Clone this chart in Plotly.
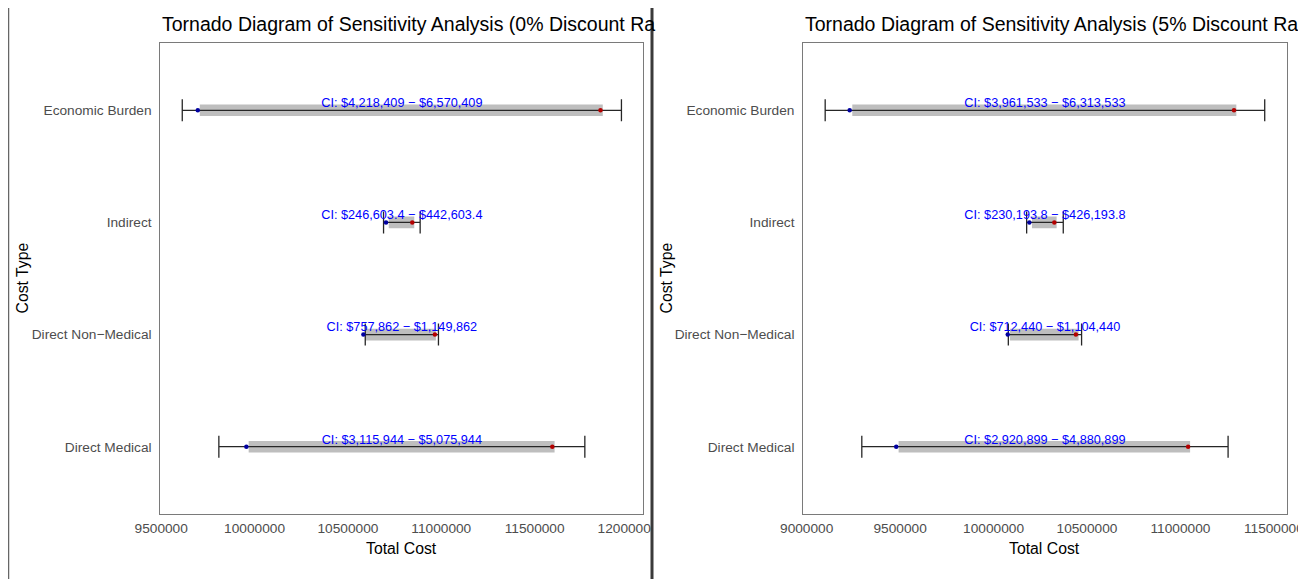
import plotly.graph_objects as go

# ---------------- data ----------------
categories = ["Direct Medical", "Direct Non\u2212Medical", "Indirect", "Economic Burden"]

# 0% discount rate
ci_labels_0 = ["CI: $3,115,944 \u2212 $5,075,944",
               "CI: $757,862 \u2212 $1,149,862",
               "CI: $246,603.4 \u2212 $442,603.4",
               "CI: $4,218,409 \u2212 $6,570,409"]
err_low_0 = [9808818, 10592818, 10690818, 9612818]
err_high_0 = [11768818, 10984818, 10886818, 11964818]
bar_low_0 = [9968500, 10591900, 10718500, 9706700]
bar_high_0 = [11606800, 10971100, 10855300, 11864900]
pt_low_0 = [9956200, 10582800, 10704100, 9696000]
pt_high_0 = [11594600, 10965800, 10844600, 11852600]

# 5% discount rate
ci_labels_5 = ["CI: $2,920,899 \u2212 $4,880,899",
               "CI: $712,440 \u2212 $1,104,440",
               "CI: $230,193.8 \u2212 $426,193.8",
               "CI: $3,961,533 \u2212 $6,313,533"]
err_low_5 = [9295066, 10079066, 10177066, 9099066]
err_high_5 = [11255066, 10471066, 10373066, 11451066]
bar_low_5 = [9492000, 10088200, 10205700, 9244100]
bar_high_5 = [11051800, 10455100, 10337600, 11299200]
pt_low_5 = [9479200, 10076000, 10191800, 9230200]
pt_high_5 = [11041100, 10440700, 10325300, 11286800]

# titles as visible in the (cropped) reference
titles = ["Tornado Diagram of Sensitivity Analysis (0% Discount Ra",
          "Tornado Diagram of Sensitivity Analysis (5% Discount Ra"]

# ---------------- figure ----------------
OFF = 8                      # page body margin of the html page
W, H = 1306 - OFF, 579 - OFF
FONT = "Liberation Sans, Arial, Helvetica, sans-serif"
fig = go.Figure()

panels = [
    ("x", "y", ci_labels_0, err_low_0, err_high_0, bar_low_0, bar_high_0, pt_low_0, pt_high_0),
    ("x2", "y2", ci_labels_5, err_low_5, err_high_5, bar_low_5, bar_high_5, pt_low_5, pt_high_5),
]

ranges = []
for xa, ya, labels, elo, ehi, blo, bhi, plo, phi in panels:
    mids = [(a + b) / 2 for a, b in zip(elo, ehi)]
    fig.add_trace(go.Bar(
        y=categories, x=[h - l for l, h in zip(blo, bhi)], base=blo,
        orientation="h", width=0.104,
        marker=dict(color="#BEBEBE", line=dict(width=0)),
        xaxis=xa, yaxis=ya, showlegend=False, hoverinfo="skip"))
    fig.add_trace(go.Scatter(
        y=categories, x=mids, mode="markers",
        marker=dict(size=1, color="rgba(0,0,0,0)"),
        error_x=dict(type="data", symmetric=False,
                     array=[h - m for h, m in zip(ehi, mids)],
                     arrayminus=[m - l for m, l in zip(mids, elo)],
                     width=11, thickness=1.3, color="#262626"),
        xaxis=xa, yaxis=ya, showlegend=False, hoverinfo="skip"))
    fig.add_trace(go.Scatter(
        y=categories, x=plo, mode="markers",
        marker=dict(size=4.5, color="#0000A0"),
        xaxis=xa, yaxis=ya, showlegend=False))
    fig.add_trace(go.Scatter(
        y=categories, x=phi, mode="markers",
        marker=dict(size=4.5, color="#B40000"),
        xaxis=xa, yaxis=ya, showlegend=False))
    fig.add_trace(go.Scatter(
        y=categories, x=mids, mode="text", text=labels,
        textposition="top center",
        textfont=dict(size=12.7, color="#0000FF", family=FONT),
        cliponaxis=False,
        xaxis=xa, yaxis=ya, showlegend=False))
    lo, hi = min(elo), max(ehi)
    pad = 0.05 * (hi - lo)
    ranges.append([lo - pad, hi + pad])

# pixel geometry in page coordinates
L0, R0 = 160.3, 643.4
L1, R1 = 803.2, 1286.7
TOP, BOT = 43, 514
PH = BOT - TOP


def px(x):
    return (x - OFF) / W


def py(y):
    return (BOT - y) / PH


axis_common = dict(showgrid=False, zeroline=False, showline=True, mirror=True,
                   linecolor="#7a7a7a", linewidth=1, ticks="", automargin=False,
                   tickfont=dict(size=13.7, color="#4D4D4D", family=FONT))

fig.update_layout(
    template="none",
    width=W, height=H,
    margin=dict(l=0, r=0, t=TOP - OFF, b=H - (BOT - OFF), pad=0),
    paper_bgcolor="white", plot_bgcolor="white",
    font=dict(family=FONT),
    barmode="overlay",
    showlegend=False,
    xaxis=dict(domain=[px(L0), px(R0)], range=ranges[0], anchor="y",
               dtick=500000, tick0=0, tickformat="d", ticklabelstandoff=2, **axis_common),
    yaxis=dict(domain=[0, 1], anchor="x", categoryorder="array",
               categoryarray=categories, range=[-0.6, 3.6], ticklabelstandoff=5, **axis_common),
    xaxis2=dict(domain=[px(L1), px(R1)], range=ranges[1], anchor="y2",
                dtick=500000, tick0=0, tickformat="d", ticklabelstandoff=2, **axis_common),
    yaxis2=dict(domain=[0, 1], anchor="x2", categoryorder="array",
                categoryarray=categories, range=[-0.6, 3.6], ticklabelstandoff=5, **axis_common),
)

annotations = []
for i, (left, right, ylab_x) in enumerate([(L0, R0, 22), (L1, R1, 666)]):
    annotations.append(dict(text=titles[i], xref="paper", yref="paper",
                            x=px(left), y=py(24), xanchor="left", yanchor="middle",
                            showarrow=False, font=dict(size=19.5, color="black", family=FONT)))
    annotations.append(dict(text="Total Cost", xref="paper", yref="paper",
                            x=px((left + right) / 2), y=py(548), xanchor="center", yanchor="middle",
                            showarrow=False, font=dict(size=15.8, color="black", family=FONT)))
    annotations.append(dict(text="Cost Type", xref="paper", yref="paper",
                            x=px(ylab_x), y=0.5, xanchor="center", yanchor="middle", textangle=-90,
                            showarrow=False, font=dict(size=15.8, color="black", family=FONT)))
fig.update_layout(annotations=annotations)

shapes = [
    dict(type="rect", xref="paper", yref="paper", x0=px(653), x1=px(664),
         y0=py(542), y1=py(516), fillcolor="white", line=dict(width=0), layer="above"),
    dict(type="line", xref="paper", yref="paper", x0=px(652), x1=px(652),
         y0=py(8), y1=py(579), line=dict(color="#3a3a3a", width=3), layer="above"),
    dict(type="line", xref="paper", yref="paper", x0=px(8.5), x1=px(8.5),
         y0=py(8), y1=py(579), line=dict(color="#666666", width=1.5), layer="above"),
    dict(type="line", xref="paper", yref="paper", x0=px(1305), x1=px(1305),
         y0=py(8), y1=py(579), line=dict(color="#aaaaaa", width=1), layer="above"),
]
fig.update_layout(shapes=shapes)

fig.write_html("out.html")
